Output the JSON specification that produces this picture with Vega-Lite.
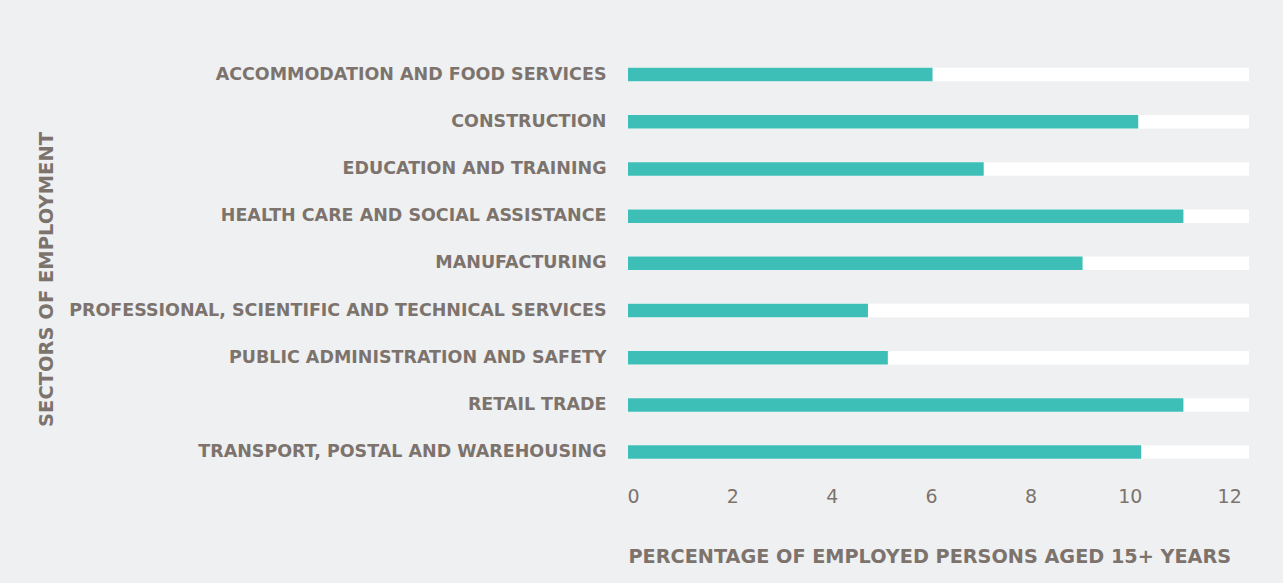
{
  "$schema": "https://vega.github.io/schema/vega-lite/v6.json",
  "width": 621,
  "height": 424.7,
  "autosize": {"type": "none"},
  "padding": {"left": 628, "top": 51, "right": 34, "bottom": 107},
  "background": "#eff0f2",
  "config": {
    "view": {"stroke": null},
    "font": "DejaVu Sans"
  },
  "data": {
    "values": [
      {"sector": "ACCOMMODATION AND FOOD SERVICES", "value": 6.13},
      {"sector": "CONSTRUCTION", "value": 10.27},
      {"sector": "EDUCATION AND TRAINING", "value": 7.16},
      {"sector": "HEALTH CARE AND SOCIAL ASSISTANCE", "value": 11.18},
      {"sector": "MANUFACTURING", "value": 9.15},
      {"sector": "PROFESSIONAL, SCIENTIFIC AND TECHNICAL SERVICES", "value": 4.83},
      {"sector": "PUBLIC ADMINISTRATION AND SAFETY", "value": 5.23},
      {"sector": "RETAIL TRADE", "value": 11.18},
      {"sector": "TRANSPORT, POSTAL AND WAREHOUSING", "value": 10.33}
    ]
  },
  "encoding": {
    "y": {
      "field": "sector",
      "type": "nominal",
      "sort": null,
      "scale": {"paddingInner": 0, "paddingOuter": 0},
      "axis": {
        "title": "SECTORS OF EMPLOYMENT",
        "titleFont": "DejaVu Sans",
        "titleFontSize": 19.5,
        "titleFontWeight": "bold",
        "titleColor": "#7d736d",
        "titleX": -572,
        "titleY": 228,
        "titleAngle": -90,
        "titleBaseline": "bottom",
        "titleAlign": "center",
        "labelFont": "DejaVu Sans",
        "labelFontSize": 17.5,
        "labelFontWeight": "bold",
        "labelColor": "#7d736d",
        "labelPadding": 22,
        "labelLimit": 700,
        "ticks": false,
        "domain": false,
        "grid": false
      }
    }
  },
  "layer": [
    {
      "mark": {"type": "bar", "color": "#ffffff", "size": 13.5},
      "encoding": {
        "x": {"datum": 0, "type": "quantitative"},
        "x2": {"datum": 12.5}
      }
    },
    {
      "mark": {"type": "bar", "color": "#3dbfb8", "size": 13.5},
      "encoding": {
        "x": {
          "field": "value",
          "type": "quantitative",
          "scale": {"domain": [0, 12.5], "nice": false},
          "axis": {
            "title": "PERCENTAGE OF EMPLOYED PERSONS AGED 15+ YEARS",
            "titleFont": "DejaVu Sans",
            "titleFontSize": 19.25,
            "titleFontWeight": "bold",
            "titleColor": "#7d736d",
            "titleAnchor": "start",
            "titlePadding": 41,
            "values": [0, 2, 4, 6, 8, 10, 12],
            "labelFont": "DejaVu Sans",
            "labelFontSize": 19,
            "labelFontWeight": "normal",
            "labelColor": "#7d736d",
            "labelPadding": 12,
            "labelOffset": 5,
            "labelFlush": false,
            "ticks": false,
            "domain": false,
            "grid": false
          }
        }
      }
    }
  ]
}
